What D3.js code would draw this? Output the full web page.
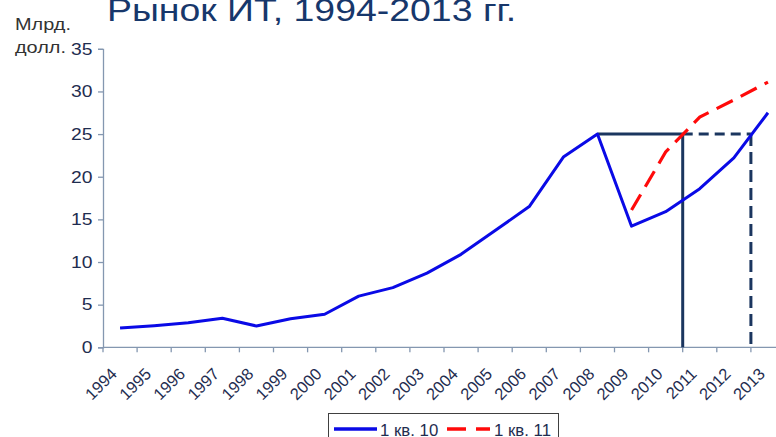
<!DOCTYPE html>
<html lang="ru">
<head>
<meta charset="utf-8">
<script src="https://d3js.org/d3.v7.min.js"></script>
<style>
  body { margin: 0; background: #fff; }
  svg { display: block; }
  text { font-family: "Liberation Sans", Arial, sans-serif; }
</style>
</head>
<body>
<svg width="776" height="437"></svg>
<script>
// data
var years = ["1994", "1995", "1996", "1997", "1998", "1999", "2000", "2001", "2002", "2003",
             "2004", "2005", "2006", "2007", "2008", "2009", "2010", "2011", "2012", "2013"];
var q1_10 = [2.26, 2.53, 2.88, 3.4, 2.5, 3.35, 3.87, 6.0, 7.0, 8.7,
             10.9, 13.7, 16.5, 22.3, 25.0, 14.2, 15.9, 18.6, 22.2, 27.5];
var q1_11Years = ["2009", "2010", "2011", "2012", "2013"];
var q1_11 = [16.1, 22.9, 27.0, 29.0, 31.1];
var seriesNames = ["1 кв. 10", "1 кв. 11"];
var yTicks = [0, 5, 10, 15, 20, 25, 30, 35];
// guide lines at the 2008 level
var guideLevel = 25;
var guideFrom = "2008", guideSolidTo = "2011", guideDashTo = "2013";

var sx = 1.17; // the picture's text is stretched sideways

var svg = d3.select("svg");
var x0 = 103, step = 34.1, y0 = 347.3;

var x = d3.scaleBand().domain(years).range([x0, x0 + step * years.length]);
var y = d3.scaleLinear().domain([0, 35]).range([y0, 48.8]);
var cx = function (d) { return x(d) + x.bandwidth() / 2; };

var axisCol = "#8497b0", labCol = "#1f2d50", navy = "#1b365f";

// title
svg.append("text")
  .attr("transform", "translate(107,21) scale(" + sx + ",1)")
  .attr("font-size", 32).attr("fill", "#17376b")
  .text("Рынок ИТ, 1994-2013 гг.");

// units
svg.append("text").attr("transform", "translate(15,30) scale(" + sx + ",1)")
  .attr("font-size", 17).attr("fill", "#333").text("Млрд.");
svg.append("text").attr("transform", "translate(15,52.5) scale(" + sx + ",1)")
  .attr("font-size", 17).attr("fill", "#333").text("долл.");

// y axis
var gy = svg.append("g").attr("transform", "translate(" + x0 + ",0)")
  .call(d3.axisLeft(y).tickValues(yTicks).tickSize(5).tickPadding(6));
gy.select(".domain").attr("stroke", axisCol).attr("stroke-width", 1.3);
gy.selectAll(".tick line").attr("stroke", axisCol).attr("stroke-width", 1.3);
gy.selectAll(".tick text")
  .attr("x", -10.5 / sx)
  .attr("transform", "scale(" + sx + ",1)")
  .attr("font-size", 16.5).attr("fill", labCol)
  .attr("font-family", "'Liberation Sans', Arial, sans-serif");

// x axis (category ticks between years)
var gx = svg.append("g");
gx.append("line")
  .attr("x1", x0).attr("x2", 776).attr("y1", y0).attr("y2", y0)
  .attr("stroke", axisCol).attr("stroke-width", 1.3);
gx.selectAll("line.tk").data(years.concat(["end"])).enter().append("line")
  .attr("class", "tk")
  .attr("x1", function (d) { return d === "end" ? x.range()[1] : x(d); })
  .attr("x2", function (d) { return d === "end" ? x.range()[1] : x(d); })
  .attr("y1", y0).attr("y2", y0 + 5)
  .attr("stroke", axisCol).attr("stroke-width", 1.3);
gx.selectAll("text").data(years).enter().append("text")
  .attr("transform", function (d) {
    return "translate(" + (cx(d) - 2) + ",375) rotate(-45)";
  })
  .attr("text-anchor", "end")
  .attr("font-size", 16.5).attr("fill", labCol)
  .text(function (d) { return d; });

// guide lines
svg.append("line")
  .attr("x1", cx(guideFrom)).attr("x2", x(guideSolidTo))
  .attr("y1", y(guideLevel)).attr("y2", y(guideLevel))
  .attr("stroke", navy).attr("stroke-width", 3);
svg.append("line")
  .attr("x1", x(guideSolidTo)).attr("x2", x(guideDashTo))
  .attr("y1", y(guideLevel)).attr("y2", y(guideLevel))
  .attr("stroke", navy).attr("stroke-width", 3).attr("stroke-dasharray", "10,6");
svg.append("line")
  .attr("x1", x(guideSolidTo)).attr("x2", x(guideSolidTo))
  .attr("y1", y(guideLevel)).attr("y2", y(0))
  .attr("stroke", navy).attr("stroke-width", 3);
svg.append("line")
  .attr("x1", x(guideDashTo)).attr("x2", x(guideDashTo))
  .attr("y1", y(guideLevel)).attr("y2", y(0))
  .attr("stroke", navy).attr("stroke-width", 3).attr("stroke-dasharray", "12,6");

// series
var line = d3.line().x(function (d) { return cx(d[0]); }).y(function (d) { return y(d[1]); });
svg.append("path")
  .datum(years.map(function (d, i) { return [d, q1_10[i]]; }))
  .attr("d", line).attr("fill", "none")
  .attr("stroke", "#0a0ae6").attr("stroke-width", 3).attr("stroke-linejoin", "round");
svg.append("path")
  .datum(q1_11Years.map(function (d, i) { return [d, q1_11[i]]; }))
  .attr("d", line).attr("fill", "none")
  .attr("stroke", "#ff0a0a").attr("stroke-width", 3.2).attr("stroke-dasharray", "18,9");

// legend
var lg = svg.append("g").attr("transform", "translate(328,413)");
lg.append("rect").attr("x", 0.5).attr("y", 0.5).attr("width", 230).attr("height", 30)
  .attr("fill", "#fff").attr("stroke", "#404040").attr("stroke-width", 1);
var items = [
  { name: seriesNames[0], col: "#0a0ae6", dash: null, lx: 6, tx: 52 },
  { name: seriesNames[1], col: "#ff0a0a", dash: "19,10", lx: 119, tx: 166 }
];
items.forEach(function (it) {
  lg.append("line").attr("x1", it.lx).attr("x2", it.lx + 43).attr("y1", 16).attr("y2", 16)
    .attr("stroke", it.col).attr("stroke-width", 3.5).attr("stroke-dasharray", it.dash);
  lg.append("text").attr("transform", "translate(" + it.tx + ",22.5) scale(1.05,1)")
    .attr("font-size", 16).attr("fill", labCol).text(it.name);
});
</script>
</body>
</html>
